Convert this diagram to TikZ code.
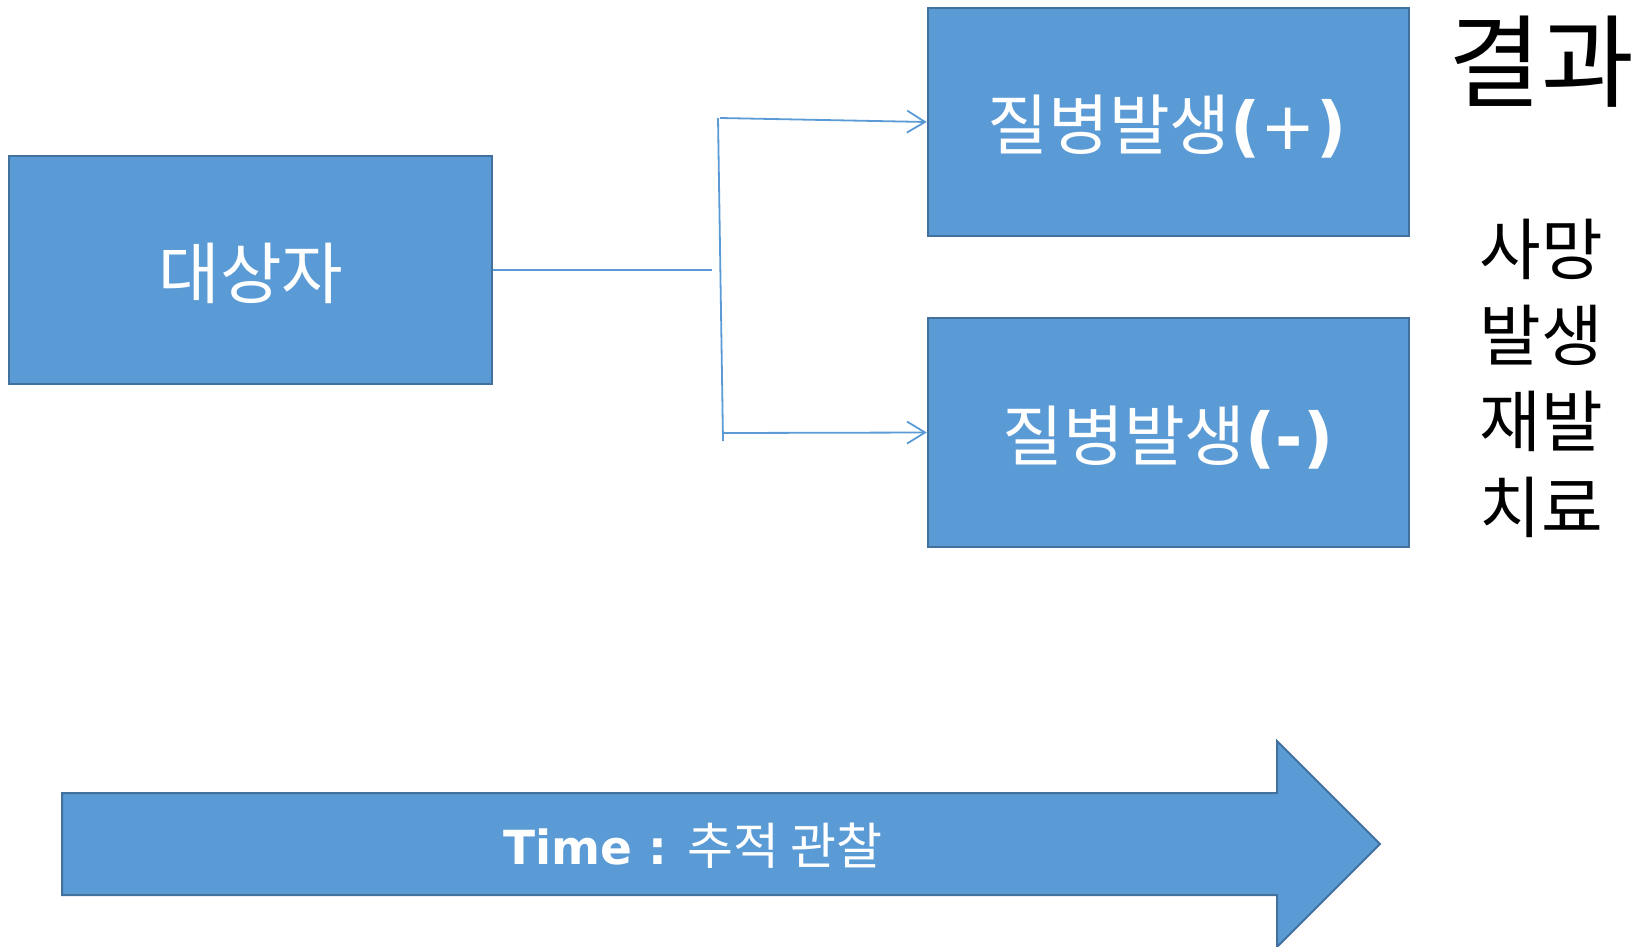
\documentclass[tikz,border=0pt]{standalone}
\usepackage{fontspec}
\setmainfont{Noto Sans CJK KR}
\newfontfamily\latinb{DejaVu Sans}
\usetikzlibrary{arrows.meta}
\definecolor{fillb}{HTML}{5B9BD5}
\definecolor{edgeb}{HTML}{41719C}
\newcommand{\parpl}[1]{{\latinb\bfseries(}{\latinb #1}{\latinb\bfseries)}}
\begin{document}
\begin{tikzpicture}[x=1pt,y=-1pt,
  box/.style={draw=edgeb, fill=fillb, line width=2.5pt, inner sep=0pt},
  boxtext/.style={text=white, inner sep=0pt, font=\fontsize{66}{76}\selectfont},
  conn/.style={draw=fillb, line width=1.8pt},
  arr/.style={conn, -{Straight Barb[length=18pt, width=22pt, line width=1.8pt]}},
  blacktext/.style={text=black, inner sep=0pt}]
\useasboundingbox (0,0) rectangle (1637,946);

\node[box, minimum width=483pt, minimum height=228pt] (subj) at (250.5,270) {};
\node[boxtext, font=\fontsize{67}{76}\selectfont] (subjt) at (251,273) {대상자};

\node[box, minimum width=481pt, minimum height=228pt] (pos) at (1168.5,122) {};
\node[boxtext] (post) at (1167,127) {질병발생\parpl{+}};

\node[box, minimum width=481pt, minimum height=229pt] (neg) at (1168.5,432.5) {};
\node[boxtext] (negt) at (1168,438) {질병발생{\latinb\bfseries(-)}};

\coordinate (hend) at (712,270);
\coordinate (vtop) at (718,118);
\coordinate (vbot) at (723,441);
\coordinate (atop) at (720,118);
\coordinate (abot) at (723,433);

\draw[conn] (subj.east) -- (hend);
\draw[conn] (vtop) -- (vbot);
\draw[arr] (atop) -- (pos.west);
\draw[arr] (abot) -- (neg.west);

\filldraw[fill=fillb, draw=edgeb, line width=2pt]
  (62,793) -- (1277,793) -- (1277,741) -- (1380,844) -- (1277,947) -- (1277,895) -- (62,895) -- cycle;
\node[text=white, inner sep=0pt] (timelbl) at (693,846)
  {{\latinb\bfseries\fontsize{47}{50}\selectfont Time :}\hspace{20pt}{\fontsize{50}{56}\selectfont 추적 관찰}};

\node[blacktext, font=\fontsize{101}{110}\selectfont] (result) at (1541,62) {결과};
\node[blacktext, font=\fontsize{67}{86}\selectfont, align=center] (items) at (1541,378)
  {사망\\발생\\재발\\치료};
\end{tikzpicture}
\end{document}
